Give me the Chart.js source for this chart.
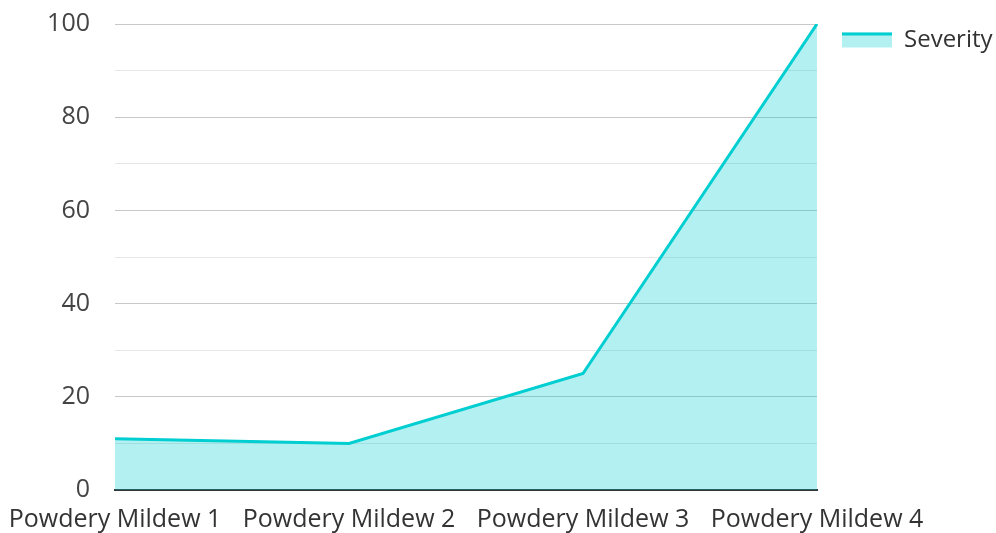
<!DOCTYPE html>
<html>
<head>
<meta charset="utf-8">
<script src="https://cdn.jsdelivr.net/npm/chart.js@4.4.1/dist/chart.umd.min.js"></script>
<style>
  html, body { margin: 0; padding: 0; background: #fff; }
  #wrap { width: 996px; height: 533px; }
</style>
</head>
<body>
<div id="wrap"><canvas id="myChart"></canvas></div>
<script>
const categories = ['Powdery Mildew 1', 'Powdery Mildew 2', 'Powdery Mildew 3', 'Powdery Mildew 4'];
const severity = [11, 10, 25, 100];
const seriesName = 'Severity';

const lineColor = '#00CED1';
const fillColor = 'rgba(0, 206, 209, 0.3)';

Chart.defaults.font.family = '"Open Sans", "Noto Sans", sans-serif';

// legend marker: filled box with a thick line along its top edge
const legendTopLine = {
    id: 'legendTopLine',
    beforeLayout(chart) {
        // keep the legend column a fixed width so the plot ends where it should
        const legend = chart.legend;
        if (legend && !legend._fixedFit) {
            const origFit = legend.fit;
            legend.fit = function () {
                origFit.call(this);
                this.width = 179;
            };
            legend._fixedFit = true;
        }
    },
    afterLayout(chart) {
        // lift the legend a little, level with the top of the plot
        const legend = chart.legend;
        if (legend) {
            legend.top -= 21;
            legend.bottom -= 21;
        }
    },
    afterDraw(chart) {
        const legend = chart.legend;
        if (!legend || !legend.legendHitBoxes) return;
        const ctx = chart.ctx;
        const boxW = legend.options.labels.boxWidth;
        const boxH = legend.options.labels.boxHeight;
        legend.legendHitBoxes.forEach((hb) => {
            const x = hb.left;
            const y = hb.top + (hb.height - boxH) / 2;
            ctx.save();
            ctx.fillStyle = lineColor;
            ctx.fillRect(x, y, boxW, 3);
            ctx.restore();
        });
    }
};

const myChart = new Chart(document.getElementById('myChart').getContext('2d'), {
    type: 'line',
    data: {
        labels: categories,
        datasets: [{
            label: seriesName,
            data: severity,
            borderColor: lineColor,
            backgroundColor: fillColor,
            borderWidth: 3,
            fill: 'origin',
            tension: 0,
            pointRadius: 0
        }]
    },
    options: {
        responsive: true,
        maintainAspectRatio: false,
        animation: false,
        layout: {
            padding: { left: 0, right: 0, top: 24, bottom: 0 }
        },
        plugins: {
            legend: {
                position: 'right',
                align: 'start',
                labels: {
                    boxWidth: 50,
                    boxHeight: 15,
                    padding: 25,
                    color: '#333',
                    font: { size: 24 },
                    generateLabels(chart) {
                        return chart.data.datasets.map((ds, i) => ({
                            text: ds.label,
                            fillStyle: ds.backgroundColor,
                            strokeStyle: 'rgba(0,0,0,0)',
                            lineWidth: 0,
                            datasetIndex: i,
                            fontColor: '#333'
                        }));
                    }
                }
            },
            tooltip: { enabled: false }
        },
        scales: {
            x: {
                offset: false,
                grid: { display: false },
                border: { display: true, color: '#333', width: 2 },
                afterFit: (scale) => { scale.height = 43; },
                ticks: {
                    color: '#333',
                    font: { size: 25 },
                    padding: 7,
                    maxRotation: 0,
                    autoSkip: false
                }
            },
            y: {
                min: 0,
                max: 100,
                border: { display: false },
                afterFit: (scale) => {
                    scale.width = 115;
                    scale.paddingTop = 0;
                    scale.paddingBottom = 0;
                },
                grid: {
                    drawTicks: false,
                    color: (ctx) => (ctx.tick && ctx.tick.value % 20 === 0) ? '#c8c8c8' : '#e6e6e6',
                    lineWidth: 1
                },
                ticks: {
                    stepSize: 10,
                    color: '#444',
                    font: { size: 25 },
                    padding: 25,
                    callback: (v) => (v % 20 === 0 ? v : '')
                }
            }
        }
    },
    plugins: [legendTopLine]
});
</script>
</body>
</html>
